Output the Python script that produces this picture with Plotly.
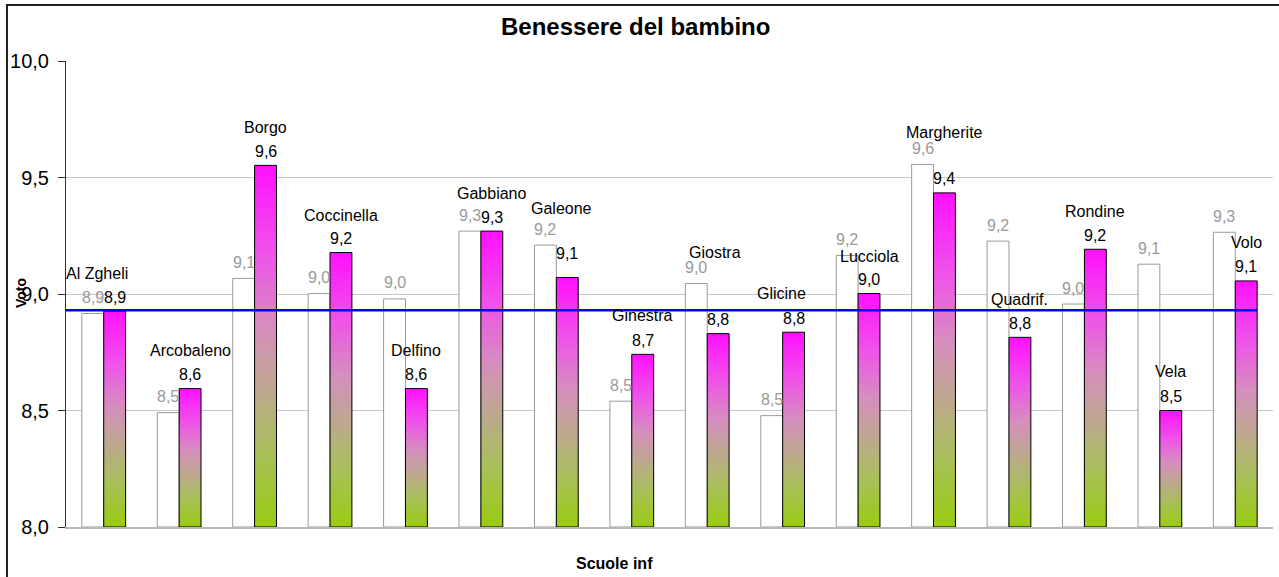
import plotly.graph_objects as go

# ---------------- data ----------------
schools = ["Al Zgheli", "Arcobaleno", "Borgo", "Coccinella", "Delfino", "Gabbiano",
           "Galeone", "Ginestra", "Giostra", "Glicine", "Lucciola", "Margherite",
           "Quadrif.", "Rondine", "Vela", "Volo"]
prev_votes = [8.916, 8.491, 9.067, 9.002, 8.979, 9.270, 9.210, 8.540,
              9.045, 8.478, 9.165, 9.556, 9.227, 8.957, 9.128, 9.265]
curr_votes = [8.927, 8.594, 9.552, 9.178, 8.594, 9.270, 9.071, 8.741,
              8.830, 8.836, 9.002, 9.434, 8.814, 9.192, 8.500, 9.056]
reference_value = 8.93
y_ticks = [8.0, 8.5, 9.0, 9.5, 10.0]
y_tick_labels = ["8,0", "8,5", "9,0", "9,5", "10,0"]

# ---------------- styles ----------------
FONT = "Liberation Sans, Arial, sans-serif"
BAR_W = 0.29
Y_MIN, Y_MAX = 8.0, 10.0
name_yshift = [38, 38, 38, 37, 38, 38, 69, 39, 81, 39, 37, 60, 38, 38, 39, 38]
name_xshift = [-18, 0, 0, 0, 0, 0, -6, 0, -3, -12, 0, 0, 0, 0, 0, 0]
curr_yshift = [14, 14, 14, 14, 14, 14, 24, 14, 14, 14, 14, 14, 14, 14, 14, 14]
prev_yshift = [16] * len(schools)

grad_stops = [(0.0, (0x99, 0xcc, 0x11)), (0.2, (0xa8, 0xc0, 0x58)),
              (0.38, (0xbd, 0xa8, 0x8f)), (0.55, (0xd5, 0x8f, 0xbd)),
              (0.75, (0xee, 0x55, 0xe8)), (1.0, (0xff, 0x10, 0xff))]


def grad_color(t):
    for (t0, c0), (t1, c1) in zip(grad_stops[:-1], grad_stops[1:]):
        if t <= t1:
            f = (t - t0) / (t1 - t0) if t1 > t0 else 0
            c = [round(a + (b - a) * f) for a, b in zip(c0, c1)]
            return "rgb(%d,%d,%d)" % tuple(c)
    return "rgb(%d,%d,%d)" % grad_stops[-1][1]


def fmt(v):
    return f"{v:.1f}".replace(".", ",")


idx = list(range(len(schools)))
fig = go.Figure()

# white (previous) bars
fig.add_trace(go.Bar(
    x=idx, y=[v - Y_MIN for v in prev_votes], base=[Y_MIN] * len(idx),
    offset=-BAR_W, width=BAR_W,
    marker=dict(color="white", line=dict(color="#9a9a9a", width=1)),
    hoverinfo="skip", showlegend=False))

# gradient (current) bars, built from stacked slices
N = 70
for k in range(N):
    heights = [(v - Y_MIN) / N for v in curr_votes]
    bases = [Y_MIN + k * h for h in heights]
    fig.add_trace(go.Bar(
        x=idx, y=[h * 1.6 if k < N - 1 else h for h in heights], base=bases,
        offset=0, width=BAR_W,
        marker=dict(color=grad_color((k + 0.5) / N), line=dict(width=0)),
        hoverinfo="skip", showlegend=False))

# outline of current bars
fig.add_trace(go.Bar(
    x=idx, y=[v - Y_MIN for v in curr_votes], base=[Y_MIN] * len(idx),
    offset=0, width=BAR_W,
    marker=dict(color="rgba(0,0,0,0)", line=dict(color="black", width=1)),
    hoverinfo="skip", showlegend=False))

# reference line
fig.add_trace(go.Scatter(
    x=[-0.5, idx[-1] + BAR_W], y=[reference_value, reference_value],
    mode="lines", line=dict(color="#0000ff", width=2.5),
    hoverinfo="skip", showlegend=False))

annotations = []
for i, name in enumerate(schools):
    annotations.append(dict(x=i - BAR_W / 2, y=prev_votes[i], text=fmt(prev_votes[i]),
                            showarrow=False, yshift=prev_yshift[i], yanchor="middle",
                            font=dict(family=FONT, size=16, color="#9a9a9a")))
    annotations.append(dict(x=i + BAR_W / 2, y=curr_votes[i], text=fmt(curr_votes[i]),
                            showarrow=False, yshift=curr_yshift[i], yanchor="middle",
                            font=dict(family=FONT, size=16, color="black")))
    annotations.append(dict(x=i + BAR_W / 2, y=curr_votes[i], text=name,
                            showarrow=False, yshift=name_yshift[i], xshift=name_xshift[i],
                            yanchor="middle",
                            font=dict(family=FONT, size=16, color="black")))

annotations += [
    dict(xref="paper", yref="paper", x=0.4722, y=1.073, text="<b>Benessere del bambino</b>",
         showarrow=False, xanchor="center", yanchor="middle",
         font=dict(family=FONT, size=24, color="black")),
    dict(xref="paper", yref="paper", x=0.4548, y=-0.0773, text="<b>Scuole inf</b>",
         showarrow=False, xanchor="center", yanchor="middle",
         font=dict(family=FONT, size=16, color="black")),
    dict(xref="paper", yref="paper", x=-0.0373, y=0.502, text="<b>Voto</b>",
         showarrow=False, xanchor="center", yanchor="middle", textangle=-90,
         font=dict(family=FONT, size=14, color="black")),
]

fig.update_layout(
    width=1279, height=577,
    margin=dict(l=66, r=6, t=61, b=50, pad=0),
    paper_bgcolor="white", plot_bgcolor="white",
    barmode="overlay", separators=",.",
    annotations=annotations,
    shapes=[dict(type="rect", xref="paper", yref="paper",
                 x0=-0.0489, x1=1.03, y0=-0.25, y1=1.1202,
                 line=dict(color="#202020", width=2), layer="above")],
    xaxis=dict(range=[-0.5, len(schools) - 0.5], showticklabels=False, showgrid=False,
               zeroline=False, ticks="", showline=True, linecolor="#b8b8b8", linewidth=2),
    yaxis=dict(range=[Y_MIN, Y_MAX], tickvals=y_ticks, ticktext=y_tick_labels,
               showgrid=True, gridcolor="#c8c8c8", gridwidth=1, zeroline=False,
               showline=True, linecolor="#303030", linewidth=1,
               ticks="outside", ticklen=7, tickcolor="#303030", ticklabelstandoff=5,
               tickfont=dict(family=FONT, size=20, color="black")),
)

fig.write_html("out.html", config={"displayModeBar": False},
               post_script="document.body.style.margin='0';document.body.style.overflow='hidden';")
